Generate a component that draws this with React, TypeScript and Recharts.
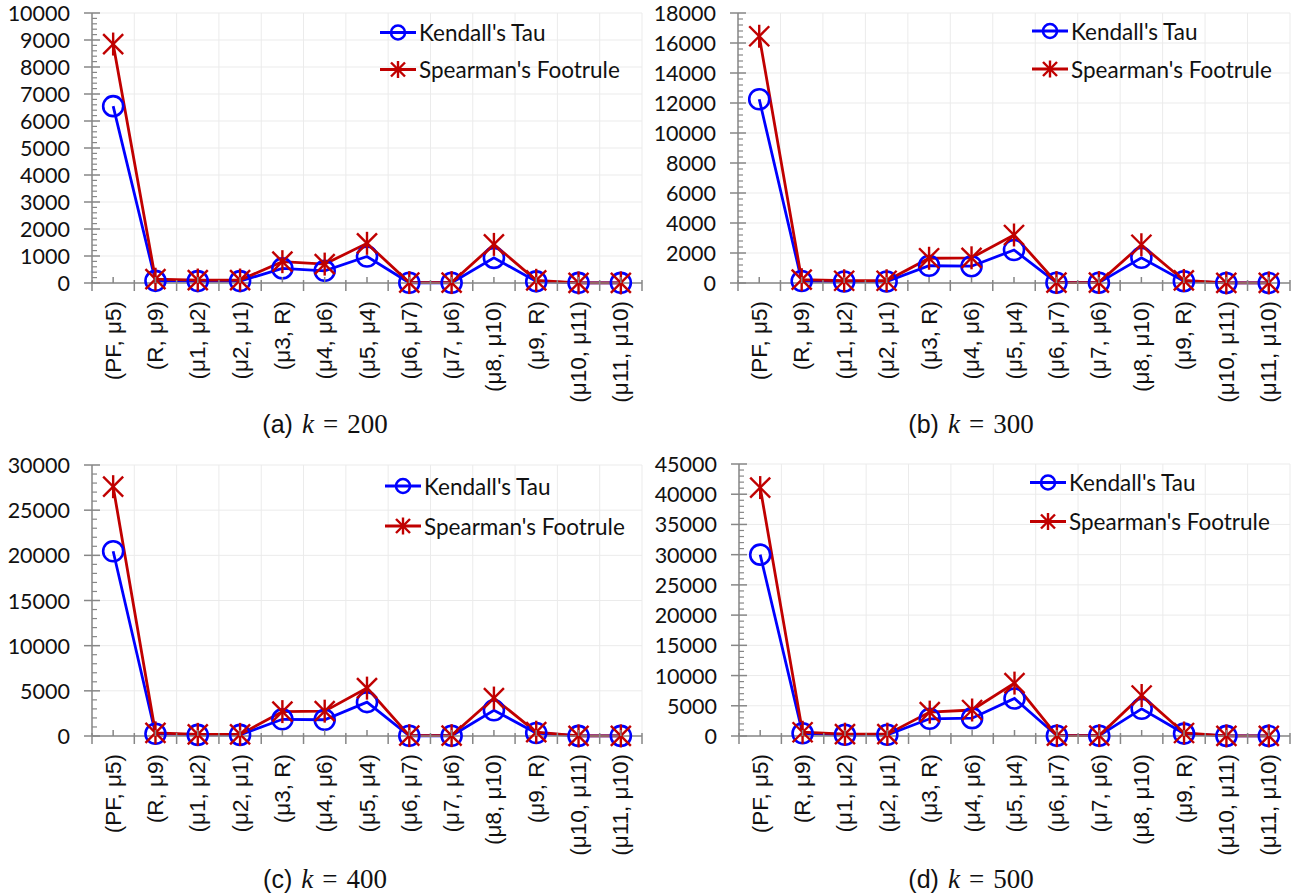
import React from 'react';
import { ComposedChart, Line, XAxis, YAxis, CartesianGrid, Legend } from 'recharts';

// ---------- data ----------
const categories = [
  '(PF, μ5)', '(R, μ9)', '(μ1, μ2)', '(μ2, μ1)', '(μ3, R)', '(μ4, μ6)', '(μ5, μ4)',
  '(μ6, μ7)', '(μ7, μ6)', '(μ8, μ10)', '(μ9, R)', '(μ10, μ11)', '(μ11, μ10)',
];

const kendall200 = [6550, 80, 70, 70, 540, 450, 980, 10, 10, 930, 60, 5, 5];
const spearman200 = [8850, 140, 110, 110, 790, 700, 1470, 15, 15, 1430, 100, 5, 5];
const kendall300 = [12250, 130, 100, 100, 1150, 1120, 2200, 20, 20, 1680, 120, 5, 5];
const spearman300 = [16450, 220, 150, 150, 1650, 1680, 3200, 30, 30, 2550, 170, 8, 8];
const kendall400 = [20450, 250, 120, 120, 1850, 1800, 3750, 30, 30, 2850, 330, 10, 10];
const spearman400 = [27600, 350, 180, 180, 2700, 2750, 5300, 40, 40, 4200, 420, 12, 12];
const kendall500 = [30000, 450, 200, 200, 2850, 2950, 6200, 50, 50, 4500, 400, 15, 15];
const spearman500 = [41100, 620, 300, 300, 3950, 4300, 8750, 60, 60, 6700, 500, 20, 20];

const yTicks200 = [0, 1000, 2000, 3000, 4000, 5000, 6000, 7000, 8000, 9000, 10000];
const yTicks300 = [0, 2000, 4000, 6000, 8000, 10000, 12000, 14000, 16000, 18000];
const yTicks400 = [0, 5000, 10000, 15000, 20000, 25000, 30000];
const yTicks500 = [0, 5000, 10000, 15000, 20000, 25000, 30000, 35000, 40000, 45000];

const seriesNames = ["Kendall's Tau", "Spearman's Footrule"];
const captionLetters = ['(a)', '(b)', '(c)', '(d)'];
const kValues = [200, 300, 400, 500];

// ---------- styles ----------
const AXIS = '#878787';
const GRID = '#ebebeb';
const BLUE = '#0000FF';
const RED = '#C00000';
const TICK_FONT = 'Lato, "Open Sans", sans-serif';
const LABEL_FONT = '"Liberation Sans", Arial, sans-serif';
const SERIF = '"Liberation Serif", "DejaVu Serif", serif';

function withMinor(majors: number[]): number[] {
  const out: number[] = [];
  for (let i = 0; i < majors.length - 1; i++) {
    const step = (majors[i + 1] - majors[i]) / 5;
    for (let j = 0; j < 5; j++) out.push(majors[i] + j * step);
  }
  out.push(majors[majors.length - 1]);
  return out;
}

const YTick = (props: any) => {
  const { x, y, payload, majors } = props;
  const isMajor = majors.includes(payload.value);
  return (
    <g>
      {isMajor ? (
        <line x1={x - 8} x2={x + 8} y1={y} y2={y} stroke={AXIS} strokeWidth={1.5} />
      ) : (
        <line x1={x} x2={x + 5} y1={y} y2={y} stroke={AXIS} strokeWidth={1.2} />
      )}
      {isMajor && (
        <text x={x - 22} y={y} textAnchor="end" dominantBaseline="central"
          fontFamily={TICK_FONT} fontSize={21.5} fill="#111">
          {payload.value}
        </text>
      )}
    </g>
  );
};

const XTick = (props: any) => {
  const { x, y, payload, index, band, last } = props;
  return (
    <g>
      <line x1={x} x2={x} y1={y - 6} y2={y} stroke={AXIS} strokeWidth={1.5} />
      <line x1={x - band / 2} x2={x - band / 2} y1={y - 3} y2={y + 8} stroke={AXIS} strokeWidth={1.5} />
      {index === last && (
        <line x1={x + band / 2} x2={x + band / 2} y1={y - 3} y2={y + 8} stroke={AXIS} strokeWidth={1.5} />
      )}
      <text transform={`translate(${x},${y + 18}) rotate(-90)`} textAnchor="end" dominantBaseline="central"
        fontFamily={LABEL_FONT} fontSize={22.5} fill="#111">
        {payload.value}
      </text>
    </g>
  );
};

const circleMark = (cx: number, cy: number, r: number, key?: string) => (
  <circle key={key} cx={cx} cy={cy} r={r} fill="none" stroke={BLUE} strokeWidth={2.6} />
);

const starMark = (cx: number, cy: number, d: number, key?: string) => (
  <g key={key} stroke={RED} strokeWidth={2.4}>
    <line x1={cx - d} y1={cy - d} x2={cx + d} y2={cy + d} />
    <line x1={cx - d} y1={cy + d} x2={cx + d} y2={cy - d} />
    <line x1={cx} y1={cy - d - 1.5} x2={cx} y2={cy + d + 1.5} />
  </g>
);

const LegendBox = ({ payload, row }: any) => (
  <div style={{ fontFamily: TICK_FONT, fontSize: 22.5, color: '#111' }}>
    {(payload || []).map((p: any, i: number) => (
      <div key={i} style={{ display: 'flex', alignItems: 'center', height: row, whiteSpace: 'nowrap' }}>
        <svg width={36} height={row} style={{ display: 'block' }}>
          <line x1={0} x2={36} y1={row / 2} y2={row / 2} stroke={p.color} strokeWidth={2.8} />
          {p.dataKey === 'kendall' ? circleMark(18, row / 2, 7) : starMark(18, row / 2, 7)}
        </svg>
        <span style={{ marginLeft: 3 }}>{p.value}</span>
      </div>
    ))}
  </div>
);

type PanelLayout = {
  left: number; top: number; width: number; height: number;
  margin: { top: number; right: number; bottom: number; left: number };
  yWidth: number; xHeight: number;
  legendLeft: number; legendTop: number; legendRow: number;
  captionTop: number;
};

const layouts: PanelLayout[] = [
  { left: 0, top: 0, width: 650, height: 450, margin: { top: 13, right: 8, bottom: 37, left: 0 }, yWidth: 92, xHeight: 130, legendLeft: 380, legendTop: 14, legendRow: 37, captionTop: 409 },
  { left: 646, top: 0, width: 650, height: 450, margin: { top: 13, right: 6, bottom: 37, left: 0 }, yWidth: 92, xHeight: 130, legendLeft: 386, legendTop: 12, legendRow: 38, captionTop: 409 },
  { left: 0, top: 452, width: 650, height: 450, margin: { top: 13, right: 8, bottom: 36, left: 0 }, yWidth: 92, xHeight: 130, legendLeft: 385, legendTop: 14, legendRow: 40, captionTop: 864 },
  { left: 646, top: 452, width: 650, height: 450, margin: { top: 12, right: 6, bottom: 36, left: 0 }, yWidth: 93, xHeight: 130, legendLeft: 384, legendTop: 11, legendRow: 39, captionTop: 864 },
];

const Panel = ({ kendall, spearman, majors, layout, letter, k }: any) => {
  const L: PanelLayout = layout;
  const data = categories.map((name, i) => ({ name, kendall: kendall[i], spearman: spearman[i] }));
  const max = majors[majors.length - 1];
  const plotWidth = L.width - L.margin.left - L.margin.right - L.yWidth;
  const band = plotWidth / categories.length;
  return (
    <>
      <div style={{ position: 'absolute', left: L.left, top: L.top, width: L.width, height: L.height }}>
        <ComposedChart width={L.width} height={L.height} data={data} margin={L.margin}>
          <CartesianGrid
            stroke={GRID}
            strokeWidth={1}
            verticalCoordinatesGenerator={({ offset }: any) =>
              categories.map((_, i) => offset.left + (i * offset.width) / categories.length).concat(offset.left + offset.width)}
            horizontalCoordinatesGenerator={({ offset }: any) =>
              majors.map((v: number) => offset.top + offset.height * (1 - v / max))}
          />
          <XAxis dataKey="name" type="category" scale="band" interval={0} tickLine={false} tickSize={0} tickMargin={0} height={L.xHeight}
            axisLine={{ stroke: AXIS, strokeWidth: 1.5 }}
            tick={(p: any) => <XTick {...p} band={band} last={categories.length - 1} />} />
          <YAxis type="number" domain={[0, max]} ticks={withMinor(majors)} interval={0} width={L.yWidth}
            tickLine={false} tickSize={0} tickMargin={0} axisLine={{ stroke: AXIS, strokeWidth: 1.5 }}
            tick={(p: any) => <YTick {...p} majors={majors} />} />
          <Legend layout="vertical" align="center" verticalAlign="middle"
            wrapperStyle={{ left: L.legendLeft, top: L.legendTop, width: 'auto', height: 'auto' }}
            content={(p: any) => <LegendBox payload={p.payload} row={L.legendRow} />} />
          <Line dataKey="kendall" name={seriesNames[0]} stroke={BLUE} strokeWidth={2.8} isAnimationActive={false}
            activeDot={false}
            dot={(p: any) => circleMark(p.cx, p.cy, 10, `k${p.index}`)} />
          <Line dataKey="spearman" name={seriesNames[1]} stroke={RED} strokeWidth={2.8} isAnimationActive={false}
            activeDot={false}
            dot={(p: any) => starMark(p.cx, p.cy, 10, `s${p.index}`)} />
        </ComposedChart>
      </div>
      <div style={{ position: 'absolute', left: L.left, top: L.captionTop, width: L.width, textAlign: 'center', lineHeight: '30px', color: '#111', whiteSpace: 'nowrap' }}>
        <span style={{ fontFamily: LABEL_FONT, fontSize: 25 }}>{letter}</span>
        <span style={{ fontFamily: SERIF, fontSize: 27, fontStyle: 'italic', marginLeft: 9 }}>k</span>
        <span style={{ fontFamily: SERIF, fontSize: 27, marginLeft: 9 }}>=</span>
        <span style={{ fontFamily: SERIF, fontSize: 27, marginLeft: 9 }}>{k}</span>
      </div>
    </>
  );
};

const panels = [
  { kendall: kendall200, spearman: spearman200, majors: yTicks200 },
  { kendall: kendall300, spearman: spearman300, majors: yTicks300 },
  { kendall: kendall400, spearman: spearman400, majors: yTicks400 },
  { kendall: kendall500, spearman: spearman500, majors: yTicks500 },
];

export default function App() {
  return (
    <div style={{ position: 'absolute', left: 0, top: 0, width: 1296, height: 895, background: '#fff', overflow: 'hidden' }}>
      {panels.map((p, i) => (
        <Panel key={i} {...p} layout={layouts[i]} letter={captionLetters[i]} k={kValues[i]} />
      ))}
    </div>
  );
}
